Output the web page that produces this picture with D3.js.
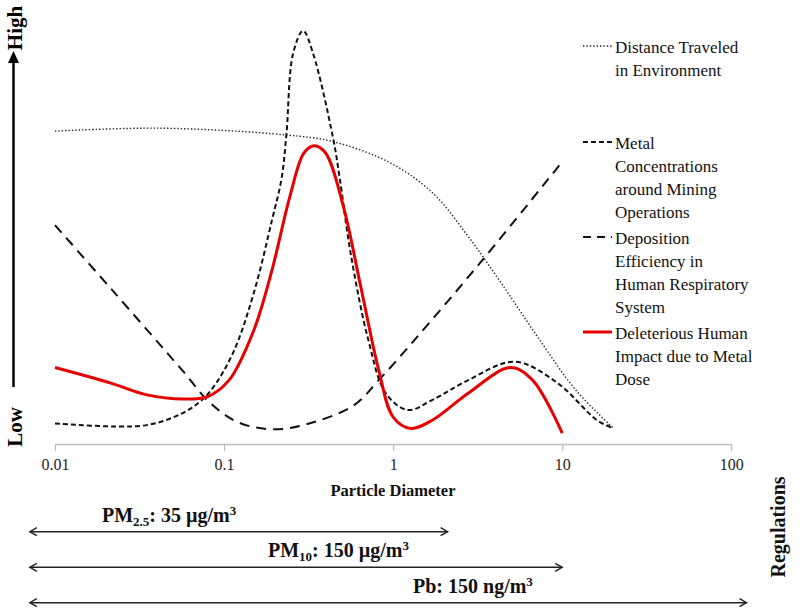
<!DOCTYPE html>
<html>
<head>
<meta charset="utf-8">
<script src="https://cdn.jsdelivr.net/npm/d3@7/dist/d3.min.js"></script>
<style>
  html, body { margin: 0; padding: 0; background: #fff; }
  svg { display: block; font-family: "Liberation Serif", "Times New Roman", serif; }
  svg text { font-family: "Liberation Serif", "Times New Roman", serif; }
</style>
</head>
<body>
<svg id="chart" width="800" height="616"></svg>
<script>
// ---------------- DATA ----------------
const tickValues = [0.01, 0.1, 1, 10, 100];
const tickLabels = ["0.01", "0.1", "1", "10", "100"];

// Distance Traveled in Environment (dotted)
const distanceX = [0.01, 0.042, 0.23, 0.44, 0.955, 1.71, 2.78, 4.5, 7.35, 12, 20];
const distanceY = [74.5, 75.2, 73.6, 72, 67, 59.8, 49.4, 37.5, 24.8, 12.9, 3.8];

// Metal Concentrations around Mining Operations (short dashes)
const metalX = [0.01, 0.032, 0.049, 0.066, 0.084, 0.113, 0.15, 0.192, 0.219, 0.234, 0.256, 0.2935, 0.336, 0.441, 0.483, 0.56, 0.713, 0.904, 1.22, 1.71, 2.78, 5.23, 9.4, 16, 20];
const metalY = [4.9, 4.3, 6.2, 8.9, 12.9, 21.7, 36, 53.3, 63.3, 74, 93, 98.4, 93, 72.9, 63.3, 45.5, 24.8, 12.1, 8.1, 10.5, 15.2, 19.6, 14.5, 5.7, 3.8];

// Deposition Efficiency in Human Respiratory System (long dashes)
const depositionX = [0.01, 0.0214, 0.057, 0.0836, 0.124, 0.201, 0.326, 0.585, 0.822, 1.34, 3.39, 10];
const depositionY = [52.1, 37.0, 17.4, 9.6, 5.0, 3.5, 5.0, 9.2, 15.2, 24.8, 43.9, 67.2];

// Deleterious Human Impact due to Metal Dose (red)
const impactX = [0.01, 0.0214, 0.035, 0.057, 0.080, 0.107, 0.15, 0.192, 0.245, 0.297, 0.342, 0.398, 0.508, 0.643, 0.822, 1.0, 1.27, 1.71, 2.78, 4.95, 6.68, 10];
const impactY = [18.2, 14.5, 11.7, 10.7, 11.3, 15.2, 27.1, 41.4, 58.9, 69.3, 71, 69.3, 56.5, 37.5, 17.6, 6.4, 3.7, 5.7, 12.1, 18.2, 15.2, 2.6];

const seriesNames = [
  ["Distance Traveled", "in Environment"],
  ["Metal", "Concentrations", "around Mining", "Operations"],
  ["Deposition", "Efficiency in", "Human Respiratory", "System"],
  ["Deleterious Human", "Impact due to Metal", "Dose"]
];

// Regulations (size ranges in particle diameter units)
const regStart = [0.0071, 0.0071, 0.0071];
const regEnd = [2.1, 10, 123];
const regPrefix = ["PM", "PM", "Pb"];
const regSub = ["2.5", "10", ""];
const regMid = [": 35 \u00b5g/m", ": 150 \u00b5g/m", ": 150 ng/m"];
const regSup = ["3", "3", "3"];

// ---------------- LAYOUT ----------------
const FONT = "'Liberation Serif', 'Times New Roman', serif";
const svg = d3.select("#chart");
const x = d3.scaleLog().domain([0.01, 100]).range([55, 731.3]);
const y = d3.scaleLinear().domain([0, 100]).range([444, 24]);

// x axis
const axis = svg.append("g")
  .attr("transform", "translate(0,444)")
  .call(d3.axisBottom(x).tickValues(tickValues)
    .tickFormat((d, i) => tickLabels[i])
    .tickSizeInner(7).tickSizeOuter(0).tickPadding(8));
axis.attr("font-family", FONT);
axis.select(".domain").attr("stroke", "#bdbdbd").attr("stroke-width", 1.5);
axis.selectAll(".tick line").attr("stroke", "#bdbdbd").attr("stroke-width", 1.2);
axis.selectAll(".tick text")
  .attr("font-family", FONT)
  .attr("font-size", 16).attr("fill", "#222");

svg.append("text")
  .attr("x", 393).attr("y", 496)
  .attr("text-anchor", "middle")
  .attr("font-family", FONT)
  .attr("font-weight", "bold").attr("font-size", 16.5)
  .attr("fill", "#111")
  .text("Particle Diameter");

// y arrow (Low -> High)
svg.append("line")
  .attr("x1", 13.5).attr("x2", 13.5).attr("y1", 387).attr("y2", 60)
  .attr("stroke", "#000").attr("stroke-width", 2.5);
svg.append("path")
  .attr("d", "M13.5,51 L8,63 L19,63 Z")
  .attr("fill", "#000");
svg.append("text")
  .attr("transform", "translate(22,28) rotate(-90)")
  .attr("text-anchor", "middle")
  .attr("font-family", FONT)
  .attr("font-weight", "bold").attr("font-size", 21)
  .text("High");
svg.append("text")
  .attr("transform", "translate(22,427) rotate(-90)")
  .attr("text-anchor", "middle")
  .attr("font-family", FONT)
  .attr("font-weight", "bold").attr("font-size", 21)
  .text("Low");

// curves
const line = d3.line()
  .x(d => x(d[0])).y(d => y(d[1]))
  .curve(d3.curveCatmullRom.alpha(0.5));

const series = [
  { xs: distanceX, ys: distanceY, stroke: "#222", width: 1.4, dash: "1.4,2" },
  { xs: metalX, ys: metalY, stroke: "#111", width: 2, dash: "5,3" },
  { xs: depositionX, ys: depositionY, stroke: "#111", width: 2, dash: "10,7" },
  { xs: impactX, ys: impactY, stroke: "#e60000", width: 3, dash: null }
];

series.forEach(s => {
  const pts = s.xs.map((v, i) => [v, s.ys[i]]);
  svg.append("path")
    .attr("d", line(pts))
    .attr("fill", "none")
    .attr("stroke", s.stroke)
    .attr("stroke-width", s.width)
    .attr("stroke-dasharray", s.dash);
});

// legend
const legendLineY = [46, 142, 237, 332];
series.forEach((s, i) => {
  svg.append("line")
    .attr("x1", 583).attr("x2", 612)
    .attr("y1", legendLineY[i]).attr("y2", legendLineY[i])
    .attr("stroke", s.stroke).attr("stroke-width", s.width)
    .attr("stroke-dasharray", i === 2 ? "8,6" : s.dash);
  const t = svg.append("text")
    .attr("x", 615).attr("y", legendLineY[i] + 7)
    .attr("font-family", FONT)
    .attr("font-size", 17).attr("fill", "#111");
  seriesNames[i].forEach((ln, j) => {
    t.append("tspan").attr("x", 615).attr("dy", j === 0 ? 0 : 23).text(ln);
  });
});

// regulations
const regLineY = [531.7, 567.3, 602.7];
const regTextX = [102, 268, 413];
const regTextY = [522, 557, 593];
regStart.forEach((st, i) => {
  const x1 = x(st), x2 = x(regEnd[i]), yy = regLineY[i];
  svg.append("line")
    .attr("x1", x1).attr("x2", x2).attr("y1", yy).attr("y2", yy)
    .attr("stroke", "#222").attr("stroke-width", 1.5);
  svg.append("path")
    .attr("d", `M${x1 + 7},${yy - 4} L${x1},${yy} L${x1 + 7},${yy + 4}`)
    .attr("fill", "none").attr("stroke", "#222").attr("stroke-width", 1.4);
  svg.append("path")
    .attr("d", `M${x2 - 7},${yy - 4} L${x2},${yy} L${x2 - 7},${yy + 4}`)
    .attr("fill", "none").attr("stroke", "#222").attr("stroke-width", 1.4);

  const t = svg.append("text")
    .attr("x", regTextX[i]).attr("y", regTextY[i])
    .attr("font-family", FONT)
    .attr("font-weight", "bold").attr("font-size", 20).attr("fill", "#111");
  t.append("tspan").text(regPrefix[i]);
  if (regSub[i]) {
    t.append("tspan").attr("font-size", 13).attr("dy", 4).text(regSub[i]);
    t.append("tspan").attr("dy", -4).text(regMid[i]);
  } else {
    t.append("tspan").text(regMid[i]);
  }
  t.append("tspan").attr("font-size", 13).attr("dy", -7).text(regSup[i]);
});

svg.append("text")
  .attr("transform", "translate(785,527) rotate(-90)")
  .attr("text-anchor", "middle")
  .attr("font-family", FONT)
  .attr("font-weight", "bold").attr("font-size", 20)
  .attr("fill", "#111")
  .text("Regulations");
</script>
</body>
</html>
